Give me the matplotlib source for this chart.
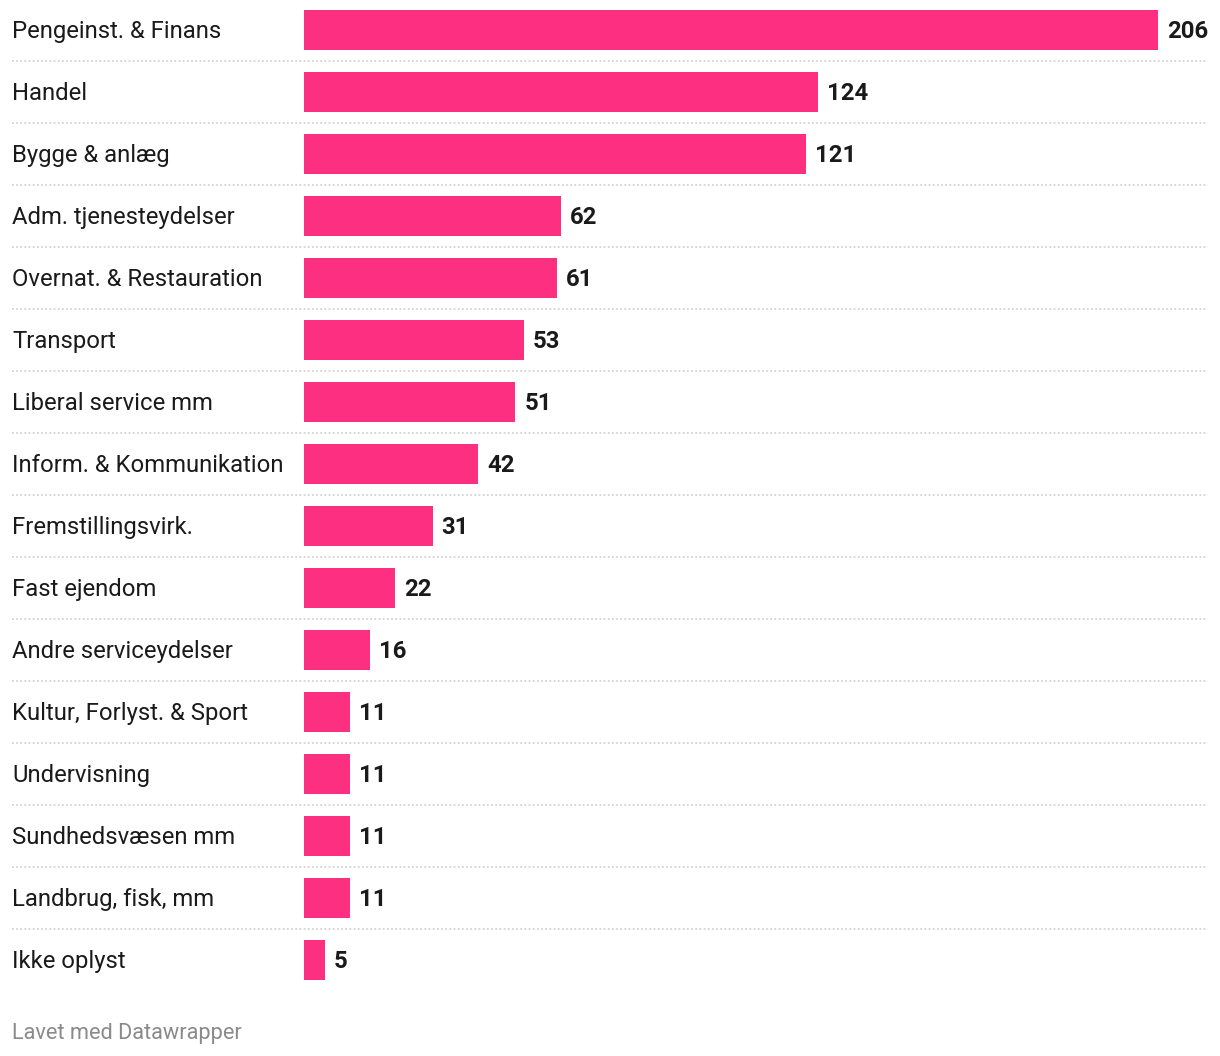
import matplotlib
matplotlib.use("Agg")
import matplotlib.pyplot as plt
from matplotlib.transforms import blended_transform_factory

categories = ["Pengeinst. & Finans", "Handel", "Bygge & anlæg", "Adm. tjenesteydelser",
              "Overnat. & Restauration", "Transport", "Liberal service mm",
              "Inform. & Kommunikation", "Fremstillingsvirk.", "Fast ejendom",
              "Andre serviceydelser", "Kultur, Forlyst. & Sport", "Undervisning",
              "Sundhedsvæsen mm", "Landbrug, fisk, mm", "Ikke oplyst"]
values = [206, 124, 121, 62, 61, 53, 51, 42, 31, 22, 16, 11, 11, 11, 11, 5]
footer = "Lavet med Datawrapper"

plt.rcParams['font.family'] = ['Roboto', 'DejaVu Sans']

W, H = 1220, 1056
fig = plt.figure(figsize=(W / 100, H / 100), dpi=100)
fig.patch.set_facecolor("white")

ax_left, ax_right = 304, 1158
ax_top, ax_bottom = -1, 991
ax = fig.add_axes([ax_left / W, 1 - ax_bottom / H, (ax_right - ax_left) / W, (ax_bottom - ax_top) / H])
ax.set_xlim(0, max(values))
n = len(categories)
ax.set_ylim(n - 0.5, -0.5)
ax.axis("off")

ys = list(range(n))
ax.barh(ys, values, height=40 / 62, color="#fc2f80", linewidth=0)

tr = blended_transform_factory(fig.transFigure, ax.transData)
for y, cat, v in zip(ys, categories, values):
    ax.text(12 / W, y + 0.02, cat, transform=tr, ha="left", va="center", fontsize=17.2, color="#1a1a1a")
    ax.annotate(str(v), xy=(v, y), xytext=(9, -2), textcoords="offset pixels",
                ha="left", va="center", fontsize=17.2, fontweight="bold", color="#1a1a1a")

for i in range(n - 1):
    ax.plot([12 / W, 1208 / W], [i + 0.5, i + 0.5], transform=tr, clip_on=False,
            color="#cccccc", linewidth=1.2, linestyle=(0, (1, 1.5)))

fig.text(12 / W, 1 - 1033 / H, footer, ha="left", va="center", fontsize=15.7, color="#8a8a8a")

fig.savefig("out.png", dpi=100, facecolor="white")
